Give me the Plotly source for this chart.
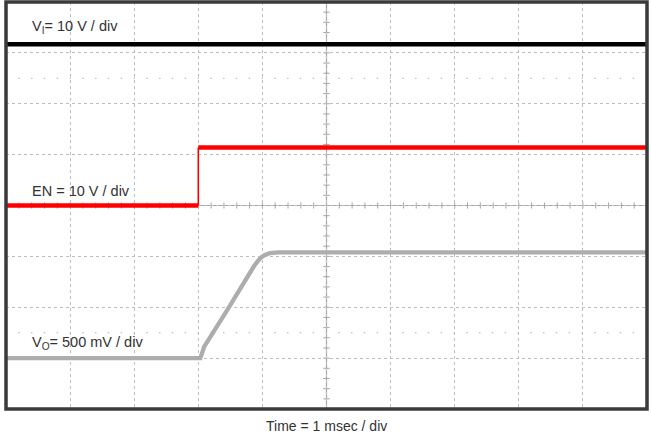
import plotly.graph_objects as go

# ---- data (time in ms, voltages in V) ----
vi_t = [0.0, 10.0]
vi_v = [11.7, 11.7]

en_t = [0.0, 3.0, 3.0, 10.0]
en_v = [0.0, 0.0, 11.4, 11.4]

vo_t = [0.0, 3.03, 3.06, 3.09, 3.47, 3.755, 3.87, 3.93, 3.98, 4.04, 4.12, 4.25, 10.0]
vo_v = [0.0, 0.0, 0.05, 0.111, 0.491, 0.80, 0.905, 0.955, 0.99, 1.015, 1.033, 1.04, 1.04]

# channel settings: volts/div and ground offset (div from screen centre)
vi_scale, vi_offset = 10.0, 2.0
en_scale, en_offset = 10.0, 0.0
vo_scale, vo_offset = 0.5, -3.0

labels = ["V<sub>I</sub>= 10 V / div", "EN = 10 V / div", "V<sub>O</sub>= 500 mV / div"]
x_title = "Time = 1 msec / div"


def to_div(vals, scale, offset):
    return [offset + v / scale for v in vals]


vi_y = to_div(vi_v, vi_scale, vi_offset)
en_y = to_div(en_v, en_scale, en_offset)
vo_y = to_div(vo_v, vo_scale, vo_offset)

fig = go.Figure()

# EN: thick horizontal levels, thin edge
en_x_lv = [en_t[0], en_t[1], None, en_t[2], en_t[3]]
en_y_lv = [en_y[0], en_y[1], None, en_y[2], en_y[3]]
fig.add_trace(go.Scatter(x=vi_t, y=vi_y, mode="lines",
                         line=dict(color="#000000", width=4.3), hoverinfo="skip"))
fig.add_trace(go.Scatter(x=en_t[1:3], y=en_y[1:3], mode="lines",
                         line=dict(color="#ff0000", width=1.6), hoverinfo="skip"))
fig.add_trace(go.Scatter(x=en_x_lv, y=en_y_lv, mode="lines",
                         line=dict(color="#ff0000", width=4.3), hoverinfo="skip",
                         connectgaps=False))
fig.add_trace(go.Scatter(x=vo_t, y=vo_y, mode="lines",
                         line=dict(color="#adadad", width=4.3),
                         hoverinfo="skip"))

# ground markers at left edge
fig.add_trace(go.Scatter(x=[-0.04] * 3, y=[vi_offset, en_offset, vo_offset], mode="markers",
                         marker=dict(symbol="triangle-right", size=6, color="#222222"),
                         cliponaxis=False, hoverinfo="skip"))

shapes = []
# centre cross lines
shapes.append(dict(type="line", xref="x", yref="y", x0=0, x1=10, y0=0, y1=0,
                   line=dict(color="#a6a6a6", width=1.2), layer="below"))
shapes.append(dict(type="line", xref="x", yref="y", x0=5, x1=5, y0=-4, y1=4,
                   line=dict(color="#a6a6a6", width=1.2), layer="below"))
# minor ticks on centre lines
for i in range(1, 50):
    xt = i * 0.2
    shapes.append(dict(type="line", xref="x", yref="y", x0=xt, x1=xt, y0=-0.06, y1=0.06,
                       line=dict(color="#a6a6a6", width=1), layer="below"))
for i in range(1, 40):
    yt = -4 + i * 0.2
    shapes.append(dict(type="line", xref="x", yref="y", x0=4.95, x1=5.05, y0=yt, y1=yt,
                       line=dict(color="#a6a6a6", width=1), layer="below"))
# dotted marker rows at +/-2.5 div
for yy in (2.5, -2.5):
    shapes.append(dict(type="line", xref="x", yref="y", x0=0.19, x1=10, y0=yy, y1=yy,
                       line=dict(color="#c4c4c4", width=1.2, dash="1.6px,11.2px"), layer="below"))
# frame
shapes.append(dict(type="rect", xref="paper", yref="paper", x0=0, x1=1, y0=0, y1=1,
                   line=dict(color="#3a3a3a", width=3.5), layer="above"))

annotations = []
ann_pos = [(3.515, 0.37), (0.29, 0.37), (-2.7, 0.37)]
for (yy, xx), txt in zip(ann_pos, labels):
    annotations.append(dict(x=xx, y=yy, xref="x", yref="y", text=txt, showarrow=False,
                            xanchor="left", yanchor="middle",
                            font=dict(family="Liberation Sans, Arial", size=14.5, color="#333333")))
annotations.append(dict(x=0.5, y=-0.041, xref="paper", yref="paper", text=x_title,
                        showarrow=False, xanchor="center", yanchor="middle", borderpad=0,
                        font=dict(family="Liberation Sans, Arial", size=14, color="#333333")))

fig.update_layout(
    width=651, height=434,
    margin=dict(l=6, r=4, t=2, b=25),
    paper_bgcolor="white", plot_bgcolor="white",
    showlegend=False,
    shapes=shapes, annotations=annotations,
    xaxis=dict(range=[0, 10], dtick=1, tick0=0, showgrid=True, gridcolor="#bdbdbd",
               griddash="dot", gridwidth=1, showticklabels=False, ticks="",
               zeroline=False, showline=False, fixedrange=True),
    yaxis=dict(range=[-4, 4], dtick=1, tick0=0, showgrid=True, gridcolor="#bdbdbd",
               griddash="dot", gridwidth=1, showticklabels=False, ticks="",
               zeroline=False, showline=False, fixedrange=True),
)

fig.write_html("out.html", config={"displayModeBar": False},
               post_script="document.body.style.margin='0';document.body.style.padding='0';")
